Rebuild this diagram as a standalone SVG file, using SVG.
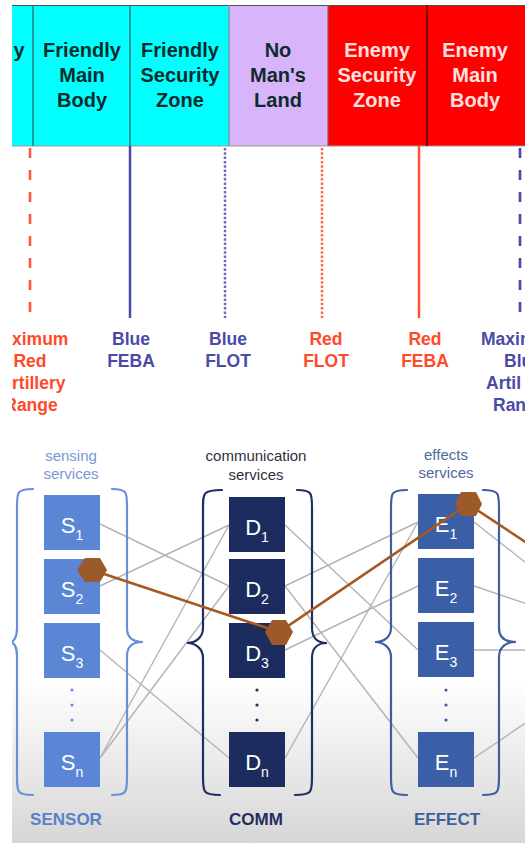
<svg xmlns="http://www.w3.org/2000/svg" width="530" height="843" viewBox="0 0 530 843">
<defs>
<clipPath id="frame"><rect x="12" y="0" width="513" height="843"/></clipPath>
<linearGradient id="bg" x1="0" y1="0" x2="0" y2="1">
<stop offset="0" stop-color="#ffffff"/>
<stop offset="1" stop-color="#d6d6d6"/>
</linearGradient>
<style>
.band{font-family:"Liberation Sans",Arial,sans-serif;font-weight:bold;font-size:20px;text-anchor:middle}
.dk{fill:#0d2b2b}
.wt{fill:#ffe0e0}
.lbl{font-family:"Liberation Sans",Arial,sans-serif;font-weight:bold;font-size:17.5px;text-anchor:middle}
.st{text-anchor:start}
.bl{fill:#4a4aa8}
.rd{fill:#ff4a2a}
.svc{font-family:"Liberation Sans",Arial,sans-serif;font-size:15px;text-anchor:middle}
.nm{font-family:"Liberation Sans",Arial,sans-serif;font-size:22px;fill:#ffffff;text-anchor:middle}
.sub{font-size:14px}
.s rect{fill:#5b86d6}
.d rect{fill:#1c2c5e}
.e rect{fill:#3a5fa6}
.conn line{stroke:#b4b4b4;stroke-width:1.4}
.brace{fill:none;stroke-width:2.2;stroke-linecap:round}
.cap{font-family:"Liberation Sans",Arial,sans-serif;font-weight:bold;font-size:17px;text-anchor:middle}
.hex{fill:#9c5a2a}
</style>
</defs>
<g clip-path="url(#frame)">
<rect x="12" y="680" width="513" height="163" fill="url(#bg)"/>

<g id="band">
<rect x="12" y="5" width="217" height="141" fill="#00ffff"/>
<rect x="229" y="5" width="99" height="141" fill="#d8b4fa"/>
<rect x="328" y="5" width="197" height="141" fill="#ff0000"/>
<line x1="12" y1="5.5" x2="525" y2="5.5" stroke="#505050" stroke-width="1.2"/>
<line x1="12" y1="146" x2="525" y2="146" stroke="#9a9a9a" stroke-width="1.2"/>
<line x1="33" y1="5" x2="33" y2="146" stroke="#2a7a7a" stroke-width="1.5"/>
<line x1="130" y1="5" x2="130" y2="146" stroke="#2a7a7a" stroke-width="1.5"/>
<line x1="229" y1="5" x2="229" y2="146" stroke="#7a8a9a" stroke-width="1.2"/>
<line x1="328" y1="5" x2="328" y2="146" stroke="#8a5a6a" stroke-width="1.2"/>
<line x1="427" y1="5" x2="427" y2="146" stroke="#8a0000" stroke-width="2"/>
</g>
<g id="zone-reserve"><text class="band dk" x="19" y="57">y</text></g>
<g id="zone-friendly-main"><text class="band dk" x="82" y="57">Friendly</text><text class="band dk" x="82" y="82">Main</text><text class="band dk" x="82" y="107">Body</text></g>
<g id="zone-friendly-security"><text class="band dk" x="180" y="57">Friendly</text><text class="band dk" x="180" y="82">Security</text><text class="band dk" x="180" y="107">Zone</text></g>
<g id="zone-no-mans-land"><text class="band dk" x="278" y="57">No</text><text class="band dk" x="278" y="82">Man's</text><text class="band dk" x="278" y="107">Land</text></g>
<g id="zone-enemy-security"><text class="band wt" x="377" y="57">Enemy</text><text class="band wt" x="377" y="82">Security</text><text class="band wt" x="377" y="107">Zone</text></g>
<g id="zone-enemy-main"><text class="band wt" x="475" y="57">Enemy</text><text class="band wt" x="475" y="82">Main</text><text class="band wt" x="475" y="107">Body</text></g>

<g id="line-max-red">
<line x1="30" y1="148" x2="30" y2="318" stroke="#ff5a35" stroke-width="2.6" stroke-dasharray="10 12"/>
<text class="lbl rd st" x="12" y="345">ximum</text>
<text class="lbl rd" x="30" y="367">Red</text>
<text class="lbl rd st" x="12" y="389">rtillery</text>
<text class="lbl rd" x="31" y="411">Range</text>
</g>
<g id="line-blue-feba">
<line x1="130" y1="146" x2="130" y2="318" stroke="#4848a8" stroke-width="2.5"/>
<text class="lbl bl" x="131" y="345">Blue</text><text class="lbl bl" x="131" y="367">FEBA</text>
</g>
<g id="line-blue-flot">
<line x1="225" y1="148" x2="225" y2="318" stroke="#6a6ac0" stroke-width="2.5" stroke-dasharray="2.5 1.8"/>
<text class="lbl bl" x="228" y="345">Blue</text><text class="lbl bl" x="228" y="367">FLOT</text>
</g>
<g id="line-red-flot">
<line x1="322" y1="148" x2="322" y2="318" stroke="#ff6a48" stroke-width="2.5" stroke-dasharray="2.5 1.8"/>
<text class="lbl rd" x="326" y="345">Red</text><text class="lbl rd" x="326" y="367">FLOT</text>
</g>
<g id="line-red-feba">
<line x1="419" y1="146" x2="419" y2="318" stroke="#ff5030" stroke-width="2.5"/>
<text class="lbl rd" x="425" y="345">Red</text><text class="lbl rd" x="425" y="367">FEBA</text>
</g>
<g id="line-max-blue">
<line x1="520" y1="148" x2="520" y2="318" stroke="#4848a8" stroke-width="2.6" stroke-dasharray="10 12"/>
<text class="lbl bl st" x="481" y="345">Maxim</text>
<text class="lbl bl st" x="504" y="367">Blu</text>
<text class="lbl bl st" x="486" y="389">Artil</text>
<text class="lbl bl st" x="493" y="411">Ran</text>
</g>

<g id="connectors" class="conn">
<line x1="100" y1="524" x2="229" y2="586"/>
<line x1="100" y1="586" x2="229" y2="525"/>
<line x1="100" y1="650" x2="229" y2="758"/>
<line x1="100" y1="758" x2="229" y2="525"/>
<line x1="100" y1="758" x2="229" y2="586"/>
<line x1="285" y1="525" x2="418" y2="650"/>
<line x1="285" y1="586" x2="418" y2="522"/>
<line x1="285" y1="586" x2="418" y2="758"/>
<line x1="285" y1="650" x2="418" y2="586"/>
<line x1="285" y1="758" x2="418" y2="522"/>
<line x1="474" y1="522" x2="530" y2="566"/>
<line x1="474" y1="586" x2="530" y2="605"/>
<line x1="474" y1="650" x2="530" y2="650"/>
<line x1="474" y1="758" x2="530" y2="720"/>
</g>

<g id="sensing" class="s">
<text class="svc" x="71" y="461" fill="#7b97d5">sensing</text>
<text class="svc" x="71" y="479" fill="#7b97d5">services</text>
<path class="brace" stroke="#6a8fd8" d="M33,489 C17,489 17,492 17,507 L17,628 C17,637 14,642 10,642 C14,642 17,647 17,656 L17,777 C17,792 17,795 33,795"/>
<path class="brace" stroke="#6a8fd8" d="M112,489 C127,489 127,492 127,507 L127,628 C127,637 132,642 143,642 C132,642 127,647 127,656 L127,777 C127,792 127,795 112,795"/>
<g id="S1"><rect x="44" y="495" width="56" height="55"/><text class="nm" x="72" y="533">S<tspan class="sub" dy="7">1</tspan></text></g>
<g id="S2"><rect x="44" y="559" width="56" height="55"/><text class="nm" x="72" y="597">S<tspan class="sub" dy="7">2</tspan></text></g>
<g id="S3"><rect x="44" y="623" width="56" height="55"/><text class="nm" x="72" y="661">S<tspan class="sub" dy="7">3</tspan></text></g>
<g id="Sn"><rect x="44" y="732" width="56" height="55"/><text class="nm" x="72" y="770">S<tspan class="sub" dy="7">n</tspan></text></g>
<circle cx="72" cy="690" r="1.6" fill="#6a8fd8"/>
<circle cx="72" cy="705" r="1.6" fill="#6a8fd8"/>
<circle cx="72" cy="720" r="1.6" fill="#6a8fd8"/>
<text class="cap" x="66" y="825" fill="#5a80c8">SENSOR</text>
</g>

<g id="communication" class="d">
<text class="svc" x="256" y="461" fill="#303040">communication</text>
<text class="svc" x="256" y="480" fill="#303040">services</text>
<path class="brace" stroke="#1f2f5f" d="M222,490 C203,490 203,493 203,508 L203,628 C203,637 196,643 187,643 C196,643 203,649 203,658 L203,777 C203,792 203,795 220,795"/>
<path class="brace" stroke="#1f2f5f" d="M297,490 C312,490 312,493 312,508 L312,628 C312,637 317,643 327,643 C317,643 312,649 312,658 L312,777 C312,792 312,795 295,795"/>
<g id="D1"><rect x="229" y="497" width="56" height="55"/><text class="nm" x="257" y="535">D<tspan class="sub" dy="7">1</tspan></text></g>
<g id="D2"><rect x="229" y="559" width="56" height="55"/><text class="nm" x="257" y="597">D<tspan class="sub" dy="7">2</tspan></text></g>
<g id="D3"><rect x="229" y="623" width="56" height="55"/><text class="nm" x="257" y="661">D<tspan class="sub" dy="7">3</tspan></text></g>
<g id="Dn"><rect x="229" y="732" width="56" height="55"/><text class="nm" x="257" y="770">D<tspan class="sub" dy="7">n</tspan></text></g>
<circle cx="257" cy="690" r="1.6" fill="#1f2f5f"/>
<circle cx="257" cy="705" r="1.6" fill="#1f2f5f"/>
<circle cx="257" cy="720" r="1.6" fill="#1f2f5f"/>
<text class="cap" x="256" y="825" fill="#1f2f5f">COMM</text>
</g>

<g id="effects" class="e">
<text class="svc" x="446" y="460" fill="#5068a0">effects</text>
<text class="svc" x="446" y="478" fill="#5068a0">services</text>
<path class="brace" stroke="#3e5fa0" d="M407,490 C391,490 391,493 391,508 L391,628 C391,637 384,642 375,642 C384,642 391,648 391,657 L391,777 C391,792 391,795 407,795"/>
<path class="brace" stroke="#3e5fa0" d="M483,490 C499,490 499,493 499,508 L499,628 C499,637 505,642 516,642 C505,642 499,648 499,657 L499,777 C499,792 499,795 483,795"/>
<g id="E1"><rect x="418" y="494" width="56" height="55"/><text class="nm" x="446" y="532">E<tspan class="sub" dy="7">1</tspan></text></g>
<g id="E2"><rect x="418" y="558" width="56" height="55"/><text class="nm" x="446" y="596">E<tspan class="sub" dy="7">2</tspan></text></g>
<g id="E3"><rect x="418" y="622" width="56" height="55"/><text class="nm" x="446" y="660">E<tspan class="sub" dy="7">3</tspan></text></g>
<g id="En"><rect x="418" y="732" width="56" height="55"/><text class="nm" x="446" y="770">E<tspan class="sub" dy="7">n</tspan></text></g>
<circle cx="446" cy="690" r="1.6" fill="#3e5fa0"/>
<circle cx="446" cy="705" r="1.6" fill="#3e5fa0"/>
<circle cx="446" cy="720" r="1.6" fill="#3e5fa0"/>
<text class="cap" x="447" y="825" fill="#40609a">EFFECT</text>
</g>

<g id="kill-chain">
<polyline points="92,570 279,632 468,504 530,545" fill="none" stroke="#a8581e" stroke-width="2.6"/>
<polygon class="hex" points="77,570 85,558 100,558 107,570 100,582 85,582"/>
<polygon class="hex" points="265,632 272,620 286,620 293,632 286,645 272,645"/>
<polygon class="hex" points="455,504 461,492 476,492 482,504 476,516 461,516"/>
</g>
</g>
</svg>
